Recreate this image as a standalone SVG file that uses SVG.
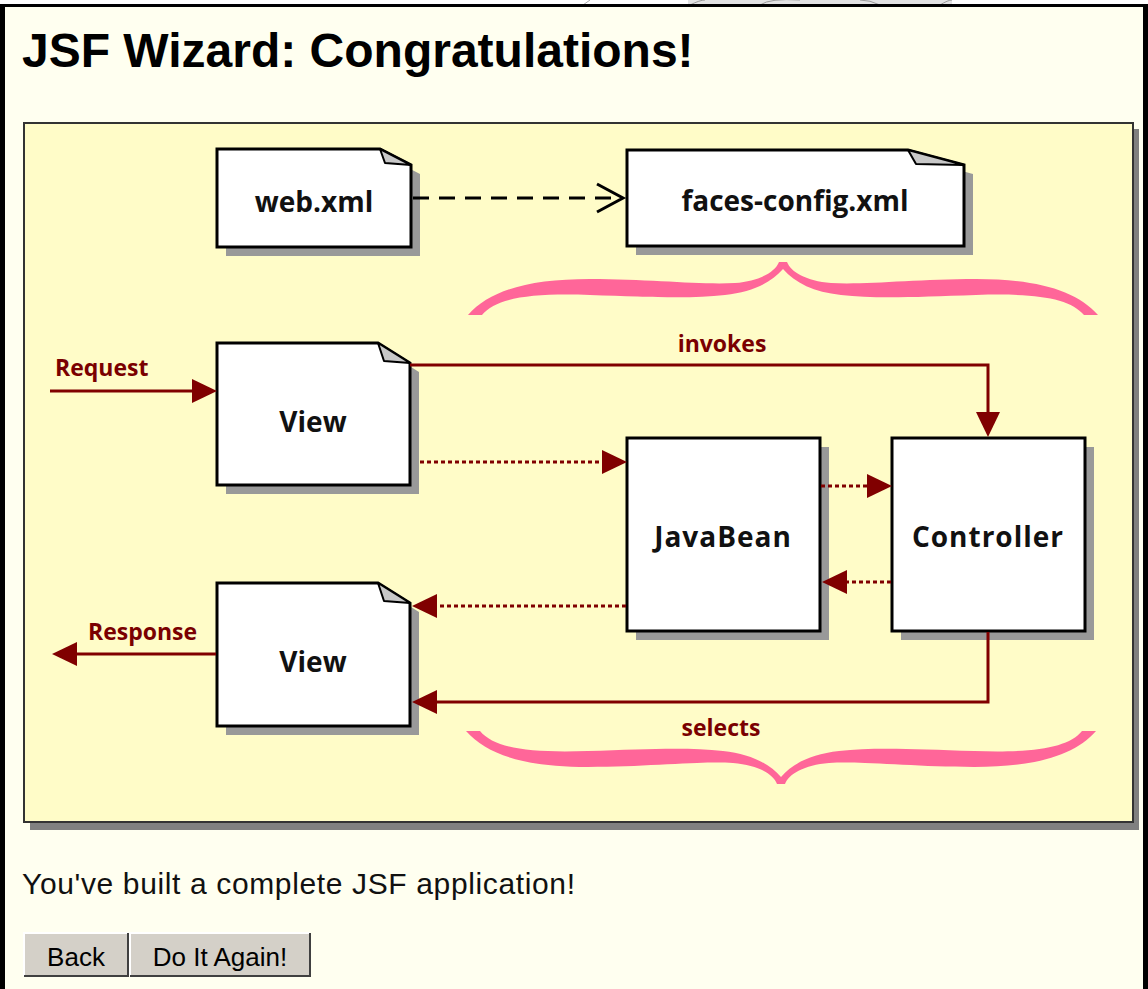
<svg xmlns="http://www.w3.org/2000/svg" width="1148" height="989" viewBox="0 0 1148 989">
<style>
.node{fill:#fff;stroke:#000;stroke-width:3;stroke-linejoin:miter}
.shadow{fill:#999}
.fold{fill:#c8c8c8;stroke:#000;stroke-width:2;stroke-linejoin:round}
.nt{font-family:"Open Sans","Liberation Sans",sans-serif;font-weight:700;font-size:28px;fill:#111;text-anchor:middle}
.lbl{font-family:"Open Sans","Liberation Sans",sans-serif;font-weight:700;font-size:23px;fill:#7a0000}
.solid{fill:none;stroke:#800000;stroke-width:3}
.dot{fill:none;stroke:#800000;stroke-width:3;stroke-dasharray:4 3}
.brace{fill:#ff6699}
.btn{fill:#d4d0c8}
.btnt{font-family:"Liberation Sans",Arial,sans-serif;font-size:26px;fill:#000;text-anchor:middle}
</style>
<defs>
<marker id="ah" viewBox="0 0 25 24" refX="0" refY="12" markerWidth="25" markerHeight="24" markerUnits="userSpaceOnUse" orient="auto">
<path d="M0,0 L25,12 L0,24 Z" fill="#800000"/>
</marker>
<path id="brace" d="M468,315 C490,290 530,279 590,279 C650,279 700,285 735,283 C760,281 775,272 779,262 L787,262 C791,272 806,281 831,283 C866,285 916,279 976,279 C1036,279 1076,290 1098,315 L1084,315 C1070,298 1036,293 976,295 C916,297 876,299 841,295 C814,292 795,283 783,269 C771,283 752,292 725,295 C690,299 650,297 590,295 C530,293 496,298 482,315 Z"/>
</defs>

<!-- window frame -->
<rect x="0" y="0" width="1148" height="5" fill="#fff"/>
<path d="M688,0 H952 V5 H688 Z" fill="#e2e2e2"/>
<path d="M690,5 Q700,0 705,0 M760,5 Q770,-2 800,0 M880,5 Q870,0 860,0 M940,5 Q948,0 952,0" fill="none" stroke="#999" stroke-width="1"/>
<path d="M583,5 L590,0" stroke="#aaa" stroke-width="1"/>
<rect x="0" y="4" width="1148" height="985" fill="#000"/>
<rect x="5" y="7" width="1138" height="982" fill="#fffff0"/>

<text x="22" y="67" font-family="'Liberation Sans',Arial,sans-serif" font-weight="700" font-size="48" fill="#000">JSF Wizard: Congratulations!</text>

<!-- diagram panel -->
<rect x="30" y="129" width="1109" height="701" fill="#808080"/>
<rect x="24" y="123" width="1109" height="699" fill="#fffcc8" stroke="#333" stroke-width="2"/>

<!-- braces -->
<use href="#brace" class="brace"/>
<use href="#brace" class="brace" transform="translate(-2,1046) scale(1,-1)"/>

<!-- nodes -->
<g id="web-xml">
<path class="shadow" d="M226,158 H389 L420,174 V256 H226 Z"/>
<path class="node" d="M217,149 H380 L411,165 V247 H217 Z"/>
<path class="fold" d="M380,149 L385,163 L411,165 Z"/>
<text class="nt" x="314" y="212">web.xml</text>
</g>
<g id="faces-config">
<path class="shadow" d="M636,159 H917 L973,174 V255 H636 Z"/>
<path class="node" d="M627,150 H908 L964,165 V246 H627 Z"/>
<path class="fold" d="M908,150 L916,164 L964,165 Z"/>
<text class="nt" x="795" y="211">faces-config.xml</text>
</g>
<g id="view-request">
<path class="shadow" d="M226,352 H387 L419,372 V494 H226 Z"/>
<path class="node" d="M217,343 H378 L410,363 V485 H217 Z"/>
<path class="fold" d="M378,343 L384,361 L410,363 Z"/>
<text class="nt" x="313" y="432">View</text>
</g>
<g id="view-response">
<path class="shadow" d="M226,592 H387 L419,612 V735 H226 Z"/>
<path class="node" d="M217,583 H378 L410,603 V726 H217 Z"/>
<path class="fold" d="M378,583 L384,601 L410,603 Z"/>
<text class="nt" x="313" y="672">View</text>
</g>
<g id="javabean">
<rect class="shadow" x="636" y="447" width="193" height="193"/>
<rect class="node" x="627" y="438" width="193" height="193"/>
<text class="nt" x="723" y="547" letter-spacing="1">JavaBean</text>
</g>
<g id="controller">
<rect class="shadow" x="901" y="447" width="193" height="193"/>
<rect class="node" x="892" y="438" width="193" height="193"/>
<text class="nt" x="988" y="547" letter-spacing="1">Controller</text>
</g>

<!-- connectors -->
<g id="connectors">
<path d="M413,198 H620" fill="none" stroke="#000" stroke-width="3" stroke-dasharray="16 10"/>
<polyline points="597,184 623,198 597,212" fill="none" stroke="#000" stroke-width="3"/>
<path class="solid" d="M50,391 H192" marker-end="url(#ah)"/>
<path class="solid" d="M410,365 H988 V412" marker-end="url(#ah)"/>
<path class="dot" d="M420,462 H602" marker-end="url(#ah)"/>
<path class="dot" d="M821,486 H867" marker-end="url(#ah)"/>
<path class="dot" d="M891,582 H847" marker-end="url(#ah)"/>
<path class="dot" d="M626,606 H437" marker-end="url(#ah)"/>
<path class="solid" d="M988,632 V702 H437" marker-end="url(#ah)"/>
<path class="solid" d="M216,654 H77" marker-end="url(#ah)"/>
<text class="lbl" x="55" y="376">Request</text>
<text class="lbl" x="722" y="352" text-anchor="middle">invokes</text>
<text class="lbl" x="721" y="736" text-anchor="middle">selects</text>
<text class="lbl" x="88" y="640">Response</text>
</g>

<text x="22" y="894" font-family="'Liberation Sans',Arial,sans-serif" font-size="30" fill="#111" textLength="553" lengthAdjust="spacing">You've built a complete JSF application!</text>

<!-- buttons -->
<g id="btn-back">
<rect class="btn" x="24" y="933" width="104" height="43"/>
<path d="M24,976 V933 H128" fill="none" stroke="#fff" stroke-width="2"/>
<path d="M24,976 H128 V933" fill="none" stroke="#404040" stroke-width="2"/>
<text class="btnt" x="76" y="966">Back</text>
</g>
<g id="btn-again">
<rect class="btn" x="130" y="933" width="180" height="43"/>
<path d="M130,976 V933 H310" fill="none" stroke="#fff" stroke-width="2"/>
<path d="M130,976 H310 V933" fill="none" stroke="#404040" stroke-width="2"/>
<text class="btnt" x="220" y="966">Do It Again!</text>
</g>
</svg>
